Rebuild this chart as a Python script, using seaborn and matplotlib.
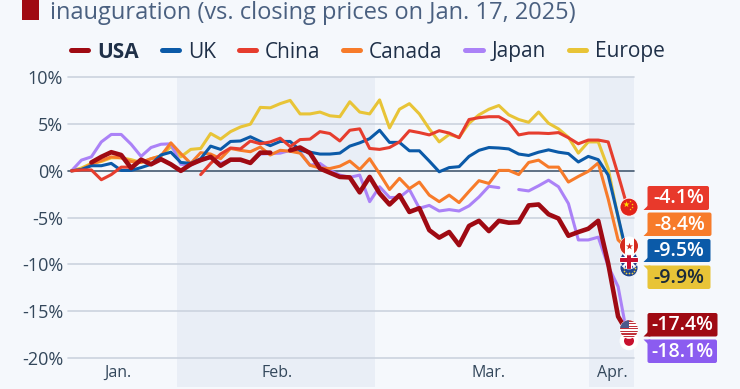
import numpy as np
import pandas as pd
import seaborn as sns
import matplotlib
matplotlib.use('Agg')
import matplotlib.pyplot as plt
from matplotlib.lines import Line2D
from matplotlib.patches import Circle, Rectangle, FancyBboxPatch, Polygon

nan = np.nan

usa = [nan,nan,.9,1.5,2.0,1.7,.3,1.2,.7,1.25,
       .7,0,.7,1.15,1.5,.55,1.2,1.2,.85,1.95,
       1.95,nan,2.2,2.5,1.9,.25,-.2,-.65,-.7,-2.3,
       -.65,-2.4,-3.6,-2.6,-4.4,-4.0,-6.35,-7.15,-6.55,-7.95,
       -5.9,-5.35,-6.45,-5.35,-5.55,-5.5,-3.7,-3.6,-4.65,-5.1,
       -6.95,-6.55,-6.2,-5.35,-9.9,-15.6,-17.4]
uk = [0,.15,.55,.55,.8,.05,.05,.35,.7,1.7,
      2.0,.9,.8,1.3,2.65,2.3,3.15,3.2,3.65,3.15,
      2.7,3.15,3.15,2.2,2.0,1.8,1.8,1.9,2.65,3.0,
      3.45,4.35,3.05,3.05,2.15,2.15,1.05,-.1,.35,.45,
      1.55,2.2,2.5,2.45,2.35,1.8,1.65,2.0,2.25,2.0,
      1.85,.95,1.55,1.2,-.45,-4.9,-9.5]
china = [0,.1,.1,-.95,-.4,.4,.4,nan,nan,nan,
         nan,nan,nan,-.4,.8,1.8,2.45,2.35,3.2,2.9,
         3.1,3.5,2.6,3.35,3.4,4.2,4.0,3.2,4.35,4.5,
         2.4,2.3,2.5,3.1,4.3,4.1,3.85,4.3,4.05,3.55,
         5.5,5.7,5.8,5.8,5.2,3.85,4.05,4.05,4.0,4.1,
         3.55,2.9,3.3,3.3,3.1,-.4,-4.1]
canada = [0,.15,.7,1.1,1.5,1.4,1.0,.9,1.3,1.6,
          3.0,1.85,.8,1.95,1.8,1.3,2.4,2.2,2.05,2.55,
          1.7,2.2,2.1,1.9,.6,.3,.25,.5,1.05,.15,
          1.3,-.3,-2.0,-.8,-1.9,-1.2,-2.6,-3.3,-2.6,-3.4,
          -2.2,-1.05,-1.35,.05,.05,-.4,.9,1.15,.4,.4,
          -1.2,-.6,-.05,.85,-3,-7.4,-8.4]
japan = [0,1.15,1.5,3.1,3.9,3.9,2.85,1.55,2.5,2.85,
         2.9,.7,.6,1.2,1.4,.8,1.15,1.1,.9,1.8,
         1.85,1.9,2.2,2.0,.6,.8,.05,-.45,-.7,-.45,
         -3.3,-1.7,-2.85,-2.85,-2,-4,-3.7,-4.3,-4.15,-4.3,
         -3.75,-2.8,-1.65,-1.8,nan,-2.0,-2.15,-1.6,-1.0,-1.7,
         -3.5,-7.4,-7.4,-7.1,-10.2,-12.4,-18.1]
europe = [0,.3,.8,1.0,1.4,1.4,1.2,.9,1.3,1.6,
          2.6,1.5,2.3,2.4,4.0,3.4,4.2,4.7,5.0,6.8,
          6.75,7.2,7.55,6.1,6.1,6.3,5.9,5.8,7.4,6.3,
          6.1,7.6,4.6,6.6,7.2,6.1,4.5,3.1,3.9,3.6,
          5.1,6.0,6.6,7.0,6.0,5.5,5.2,6.3,5.1,4.5,
          3.6,1.9,3.1,3.1,.25,-5,-9.9]

countries = ['USA', 'UK', 'China', 'Canada', 'Japan', 'Europe']
series = [usa, uk, china, canada, japan, europe]
end_labels = ['-17.4%', '-9.5%', '-4.1%', '-8.4%', '-18.1%', '-9.9%']
y_ticks = [10, 5, 0, -5, -10, -15, -20]
y_tick_labels = ['10%', '5%', '0%', '-5%', '-10%', '-15%', '-20%']
month_labels = ['Jan.', 'Feb.', 'Mar.', 'Apr.']
month_ticks = [4.7, 20.7, 42, 54.4]
month_bands = [(10.6, 30.5), (52.06, 56.6)]

colors = {'USA': '#9f0a13', 'UK': '#0b5aa8', 'China': '#e63d2e',
          'Canada': '#f77b2a', 'Japan': '#ab82f7', 'Europe': '#e8c437'}
box_colors = dict(colors, Japan='#8b5cf0', China='#e8392b')
draw_order = ['Europe', 'Japan', 'Canada', 'UK', 'China', 'USA']

frames = []
for name, vals in zip(countries, series):
    d = pd.DataFrame({'day': np.arange(len(vals)), 'change': vals})
    d['country'] = name
    # a new unit after every gap, so the line really breaks there
    d['segment'] = d['change'].isna().cumsum()
    frames.append(d)
df = pd.concat(frames, ignore_index=True)

bg = '#f5f8fc'
sns.set_theme(style='white')
plt.rcParams['font.family'] = ['Open Sans', 'DejaVu Sans']

fig = plt.figure(figsize=(7.4, 3.89), dpi=100, facecolor=bg)
ax = fig.add_axes([68/740, 1-387/389, (634-68)/740, (387-77.5)/389], facecolor=bg)

for lo, hi in month_bands:
    ax.axvspan(lo, hi, color='#e9eef6', lw=0, zorder=0)

for t in y_ticks:
    ax.axhline(t, color='#455a70' if t == 0 else '#ccd3de', lw=1.2, zorder=1, clip_on=False)

for name in draw_order:
    sub = df[df['country'] == name]
    sns.lineplot(data=sub, x='day', y='change', units='segment', estimator=None,
                 color=colors[name], lw=3.3 if name == 'USA' else 2.2, legend=False, ax=ax,
                 solid_capstyle='round', solid_joinstyle='round', zorder=3)

ax.set_xlim(-0.352, 56.6)
ax.set_ylim(-23.15, 10)
ax.set_xlabel('')
ax.set_ylabel('')
ax.set_yticks(y_ticks)
ax.set_yticklabels(y_tick_labels, fontsize=13, color='#33475b')
ax.set_xticks(month_ticks)
ax.set_xticklabels(month_labels, fontsize=11.5, color='#33475b')
ax.tick_params(axis='y', length=0, pad=3.5)
ax.tick_params(axis='x', length=0, pad=-16)
sns.despine(ax=ax, left=True, bottom=True, top=True, right=True)

handles = [Line2D([], [], color=colors[n], lw=3.6, solid_capstyle='round') for n in countries]
leg = fig.legend(handles, countries, ncol=6, loc='center left', frameon=False,
                 bbox_to_anchor=(71/740, 1-52/389), bbox_transform=fig.transFigure,
                 fontsize=15, handlelength=.82, handletextpad=.43, columnspacing=1.1,
                 borderaxespad=0, borderpad=0)
for txt in leg.get_texts():
    txt.set_color('#1f3048')
leg.get_texts()[0].set_fontweight('bold')

# overlay in picture pixels for title, flags and end labels
ov = fig.add_axes([0, 0, 1, 1], facecolor='none')
ov.set_xlim(0, 740)
ov.set_ylim(389, 0)
ov.axis('off')
ov.add_patch(Rectangle((22, -2), 17, 22, color='#a00a12', lw=0))
ov.text(50, 19, 'inauguration (vs. closing prices on Jan. 17, 2025)', fontsize=17,
        color='#4a6080', va='baseline', ha='left')


def end_y(name):
    vals = series[countries.index(name)]
    return 389 - ax.transData.transform((56, vals[-1]))[1]


flag_x = 629
flag_r = 9


def flag_base(name, dy, face, z):
    c = Circle((flag_x, end_y(name) + dy), flag_r, fc=face, ec='white', lw=.6, zorder=z)
    ov.add_patch(c)
    return c, c.center[1]


def clipped(patch, c):
    ov.add_patch(patch)
    patch.set_clip_path(c)


# Japan
c, cy = flag_base('Japan', 1, 'white', 5)
ov.add_patch(Circle((flag_x, cy), 5, fc='#c8102e', lw=0, zorder=5))
# USA
c, cy = flag_base('USA', -4, 'white', 6)
for k in range(0, 7):
    clipped(Rectangle((flag_x-9, cy-9+k*2.6), 18, 1.3, fc='#c0303a', lw=0, zorder=6), c)
clipped(Rectangle((flag_x-9, cy-9), 9, 7.8, fc='#4a5a8c', lw=0, zorder=6), c)
# Europe
c, cy = flag_base('Europe', 4.6, '#1f4690', 7)
ang = np.linspace(0, 2*np.pi, 12, endpoint=False)
ov.scatter(flag_x + 5.5*np.cos(ang), cy + 5.5*np.sin(ang), s=1.5, c='#f5d33a', lw=0, zorder=7)
# UK
c, cy = flag_base('UK', 0.4, '#27408b', 8)
for p in ([(-9, -9), (-6, -9), (9, 9), (6, 9)], [(9, -9), (6, -9), (-9, 9), (-6, 9)]):
    clipped(Polygon([(flag_x+a, cy+b) for a, b in p], fc='white', lw=0, zorder=8), c)
clipped(Rectangle((flag_x-3, cy-9), 6, 18, fc='white', lw=0, zorder=8), c)
clipped(Rectangle((flag_x-9, cy-3), 18, 6, fc='white', lw=0, zorder=8), c)
clipped(Rectangle((flag_x-1.6, cy-9), 3.2, 18, fc='#c8102e', lw=0, zorder=8), c)
clipped(Rectangle((flag_x-9, cy-1.6), 18, 3.2, fc='#c8102e', lw=0, zorder=8), c)
# Canada
c, cy = flag_base('Canada', -3.4, 'white', 9)
clipped(Rectangle((flag_x-9, cy-9), 4.5, 18, fc='#d52b1e', lw=0, zorder=9), c)
clipped(Rectangle((flag_x+4.5, cy-9), 4.5, 18, fc='#d52b1e', lw=0, zorder=9), c)
ov.scatter([flag_x], [cy], s=28, marker='*', c='#d52b1e', lw=0, zorder=9)
# China
c, cy = flag_base('China', -2, '#e2231a', 9)
ov.scatter([flag_x-3.5], [cy-3], s=22, marker='*', c='#ffde00', lw=0, zorder=9)
ov.scatter([flag_x+1, flag_x+3, flag_x+3, flag_x+1], [cy-6, cy-3.5, cy-.5, cy+2], s=3,
           marker='*', c='#ffde00', lw=0, zorder=9)

# name: top, bottom, right edge, tail at top (True) or bottom
boxes = {'China': (186, 210, 709, False), 'Canada': (212.5, 236, 711.5, False),
         'UK': (239, 262, 710.5, False), 'Europe': (265.5, 289, 710.5, True),
         'USA': (313, 336.5, 717.5, False), 'Japan': (339.5, 363, 717, True)}
for name, (top, bot, right, tail_top) in boxes.items():
    left = 647.5
    col = box_colors[name]
    ov.add_patch(FancyBboxPatch((left+2, top+2), right-left-4, bot-top-4,
                                boxstyle='round,pad=2,rounding_size=2', fc=col, ec='none', zorder=10))
    if tail_top:
        tail = [(left-4, top), (left+3, top), (left+1, top+5)]
    else:
        tail = [(left-4, bot), (left+3, bot), (left+1, bot-5)]
    ov.add_patch(Polygon(tail, fc=col, lw=0, zorder=10))
    ov.text((left+right)/2, (top+bot)/2 + .3, end_labels[countries.index(name)], fontsize=14,
            fontweight='semibold', color='#1c2b3a' if name == 'Europe' else 'white',
            ha='center', va='center', zorder=11)

fig.savefig('out.png', dpi=100, facecolor=bg)
